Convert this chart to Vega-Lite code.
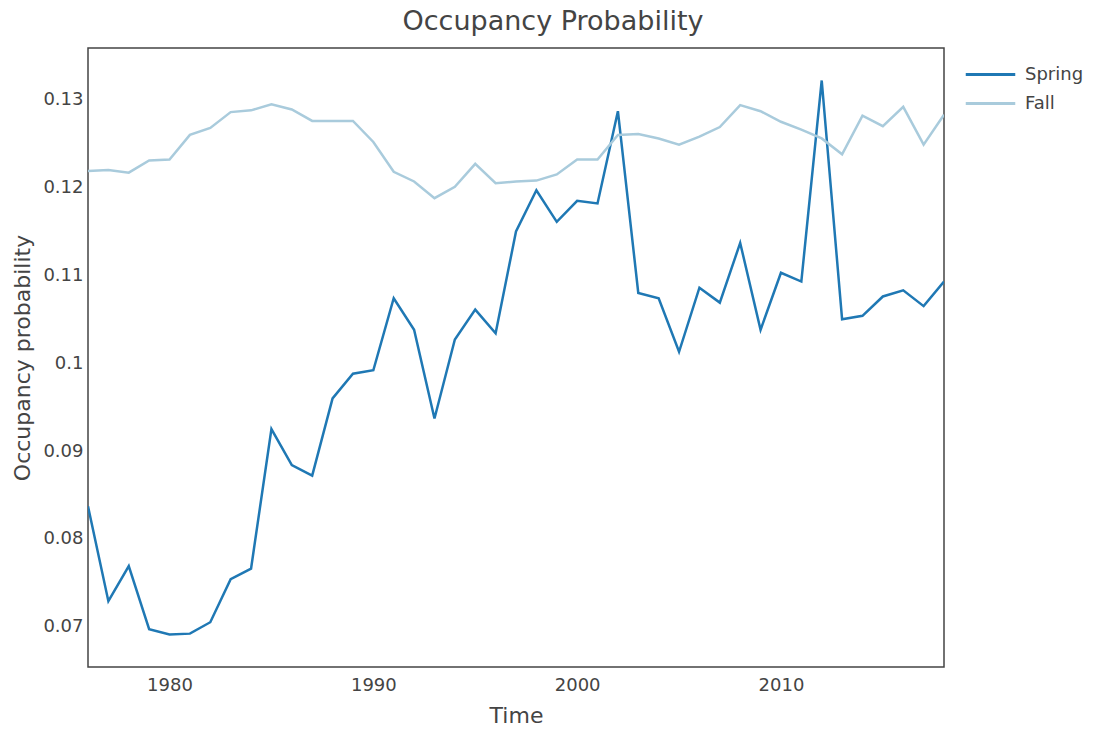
{
  "$schema": "https://vega.github.io/schema/vega-lite/v6.json",
  "width": 856,
  "height": 619,
  "autosize": {"type": "none"},
  "padding": {"left": 88, "top": 48, "right": 150, "bottom": 69},
  "background": "white",
  "config": {
    "font": "DejaVu Sans",
    "view": {"stroke": "#444", "strokeWidth": 1.5},
    "axis": {"grid": false, "domain": false, "ticks": false, "labelColor": "#444", "titleColor": "#444", "labelFont": "DejaVu Sans", "titleFont": "DejaVu Sans", "titleFontWeight": "normal"}
  },
  "title": {"text": "Occupancy Probability", "fontSize": 27, "font": "DejaVu Sans", "fontWeight": "normal", "color": "#444", "anchor": "middle", "dx": 37, "offset": 12},
  "data": {"values": [
    {"year": 1976, "series": "Spring", "p": 0.0837},
    {"year": 1977, "series": "Spring", "p": 0.0729},
    {"year": 1978, "series": "Spring", "p": 0.0769},
    {"year": 1979, "series": "Spring", "p": 0.0697},
    {"year": 1980, "series": "Spring", "p": 0.0691},
    {"year": 1981, "series": "Spring", "p": 0.0692},
    {"year": 1982, "series": "Spring", "p": 0.0705},
    {"year": 1983, "series": "Spring", "p": 0.0754},
    {"year": 1984, "series": "Spring", "p": 0.0766},
    {"year": 1985, "series": "Spring", "p": 0.0925},
    {"year": 1986, "series": "Spring", "p": 0.0884},
    {"year": 1987, "series": "Spring", "p": 0.0872},
    {"year": 1988, "series": "Spring", "p": 0.0960},
    {"year": 1989, "series": "Spring", "p": 0.0988},
    {"year": 1990, "series": "Spring", "p": 0.0992},
    {"year": 1991, "series": "Spring", "p": 0.1074},
    {"year": 1992, "series": "Spring", "p": 0.1038},
    {"year": 1993, "series": "Spring", "p": 0.0937},
    {"year": 1994, "series": "Spring", "p": 0.1027},
    {"year": 1995, "series": "Spring", "p": 0.1061},
    {"year": 1996, "series": "Spring", "p": 0.1034},
    {"year": 1997, "series": "Spring", "p": 0.1150},
    {"year": 1998, "series": "Spring", "p": 0.1197},
    {"year": 1999, "series": "Spring", "p": 0.1161},
    {"year": 2000, "series": "Spring", "p": 0.1185},
    {"year": 2001, "series": "Spring", "p": 0.1182},
    {"year": 2002, "series": "Spring", "p": 0.1287},
    {"year": 2003, "series": "Spring", "p": 0.1080},
    {"year": 2004, "series": "Spring", "p": 0.1074},
    {"year": 2005, "series": "Spring", "p": 0.1013},
    {"year": 2006, "series": "Spring", "p": 0.1086},
    {"year": 2007, "series": "Spring", "p": 0.1069},
    {"year": 2008, "series": "Spring", "p": 0.1137},
    {"year": 2009, "series": "Spring", "p": 0.1038},
    {"year": 2010, "series": "Spring", "p": 0.1103},
    {"year": 2011, "series": "Spring", "p": 0.1093},
    {"year": 2012, "series": "Spring", "p": 0.1322},
    {"year": 2013, "series": "Spring", "p": 0.1050},
    {"year": 2014, "series": "Spring", "p": 0.1054},
    {"year": 2015, "series": "Spring", "p": 0.1076},
    {"year": 2016, "series": "Spring", "p": 0.1083},
    {"year": 2017, "series": "Spring", "p": 0.1065},
    {"year": 2018, "series": "Spring", "p": 0.1093},
    {"year": 1976, "series": "Fall", "p": 0.1219},
    {"year": 1977, "series": "Fall", "p": 0.1220},
    {"year": 1978, "series": "Fall", "p": 0.1217},
    {"year": 1979, "series": "Fall", "p": 0.1231},
    {"year": 1980, "series": "Fall", "p": 0.1232},
    {"year": 1981, "series": "Fall", "p": 0.1260},
    {"year": 1982, "series": "Fall", "p": 0.1268},
    {"year": 1983, "series": "Fall", "p": 0.1286},
    {"year": 1984, "series": "Fall", "p": 0.1288},
    {"year": 1985, "series": "Fall", "p": 0.1295},
    {"year": 1986, "series": "Fall", "p": 0.1289},
    {"year": 1987, "series": "Fall", "p": 0.1276},
    {"year": 1988, "series": "Fall", "p": 0.1276},
    {"year": 1989, "series": "Fall", "p": 0.1276},
    {"year": 1990, "series": "Fall", "p": 0.1252},
    {"year": 1991, "series": "Fall", "p": 0.1218},
    {"year": 1992, "series": "Fall", "p": 0.1207},
    {"year": 1993, "series": "Fall", "p": 0.1188},
    {"year": 1994, "series": "Fall", "p": 0.1201},
    {"year": 1995, "series": "Fall", "p": 0.1227},
    {"year": 1996, "series": "Fall", "p": 0.1205},
    {"year": 1997, "series": "Fall", "p": 0.1207},
    {"year": 1998, "series": "Fall", "p": 0.1208},
    {"year": 1999, "series": "Fall", "p": 0.1215},
    {"year": 2000, "series": "Fall", "p": 0.1232},
    {"year": 2001, "series": "Fall", "p": 0.1232},
    {"year": 2002, "series": "Fall", "p": 0.1260},
    {"year": 2003, "series": "Fall", "p": 0.1261},
    {"year": 2004, "series": "Fall", "p": 0.1256},
    {"year": 2005, "series": "Fall", "p": 0.1249},
    {"year": 2006, "series": "Fall", "p": 0.1258},
    {"year": 2007, "series": "Fall", "p": 0.1269},
    {"year": 2008, "series": "Fall", "p": 0.1294},
    {"year": 2009, "series": "Fall", "p": 0.1287},
    {"year": 2010, "series": "Fall", "p": 0.1275},
    {"year": 2011, "series": "Fall", "p": 0.1266},
    {"year": 2012, "series": "Fall", "p": 0.1256},
    {"year": 2013, "series": "Fall", "p": 0.1238},
    {"year": 2014, "series": "Fall", "p": 0.1282},
    {"year": 2015, "series": "Fall", "p": 0.1270},
    {"year": 2016, "series": "Fall", "p": 0.1292},
    {"year": 2017, "series": "Fall", "p": 0.1249},
    {"year": 2018, "series": "Fall", "p": 0.1283}
  ]},
  "mark": {"type": "line", "strokeWidth": 2.5, "clip": true},
  "encoding": {
    "x": {
      "field": "year", "type": "quantitative",
      "scale": {"domain": [1976, 2018], "nice": false, "zero": false},
      "axis": {"values": [1980, 1990, 2000, 2010], "format": "d", "title": "Time", "labelFontSize": 18, "titleFontSize": 22, "labelPadding": 9, "titlePadding": 11}
    },
    "y": {
      "field": "p", "type": "quantitative",
      "scale": {"domain": [0.0654, 0.1359], "nice": false, "zero": false},
      "axis": {"values": [0.07, 0.08, 0.09, 0.1, 0.11, 0.12, 0.13], "format": ".2~f", "title": "Occupancy probability", "labelFontSize": 18, "titleFontSize": 22, "labelPadding": 5, "titlePadding": 8}
    },
    "color": {
      "field": "series", "type": "nominal",
      "scale": {"domain": ["Spring", "Fall"], "range": ["#1f78b4", "#a9cbdc"]},
      "legend": {"title": null, "orient": "none", "legendX": 886, "legendY": 10, "symbolType": "M-1.65,0H1.65", "symbolSize": 900, "symbolStrokeWidth": 3, "labelFontSize": 18, "labelColor": "#444", "rowPadding": 3, "labelOffset": 18}
    }
  }
}
